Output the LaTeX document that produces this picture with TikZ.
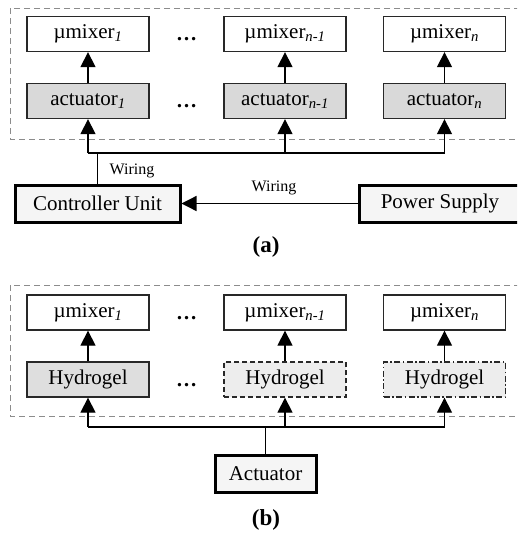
\documentclass[tikz,border=0pt]{standalone}
\usepackage{fontspec}
\setmainfont{Liberation Serif}
\usetikzlibrary{arrows.meta, positioning}
\definecolor{actgray}{RGB}{217, 217, 217}
\definecolor{gelgray}{RGB}{222, 222, 222}
\definecolor{gellight}{RGB}{237, 237, 237}
\definecolor{unitfill}{RGB}{245, 245, 245}
\definecolor{framegray}{RGB}{140, 140, 140}
\definecolor{linegray}{RGB}{40, 40, 40}

\begin{document}
\begin{tikzpicture}[
    x=1pt, y=-1pt,
    box/.style={rectangle, draw=linegray, line width=1.3pt, minimum width=122pt, minimum height=35pt, inner sep=0pt, font=\fontsize{21}{24}\selectfont},
    mixbox/.style={box, fill=white},
    actbox/.style={box, fill=actgray},
    gelbox/.style={box, fill=gellight},
    unitbox/.style={box, draw=black, line width=3pt, fill=unitfill, minimum height=37pt},
    frame/.style={draw=framegray, line width=1pt, dash pattern=on 6pt off 4pt},
    arr/.style={line width=1.3pt, -{Triangle[length=15pt, width=15pt]}},
    wire/.style={line width=1.3pt},
    lbl/.style={font=\fontsize{16}{18}\selectfont},
    dotsnode/.style={font=\fontsize{21}{24}\selectfont\bfseries},
    figlabel/.style={font=\fontsize{23}{26}\selectfont\bfseries},
]
    \useasboundingbox (0,0) rectangle (517,533);
    \clip (0,0) rectangle (517,533);

    % (a) frame
    \draw[frame] (10,8) rectangle (524,139);

    % (a) mixers
    \node[mixbox] (mixa1) at (88,34) {µmixer\textsubscript{\itshape 1}};
    \node[mixbox] (mixa2) at (285,34) {µmixer\textsubscript{\itshape n-1}};
    \node[mixbox] (mixa3) at (444.5,34) {µmixer\textsubscript{\itshape n}};

    % (a) actuators
    \node[actbox] (acta1) at (88,101) {actuator\textsubscript{\itshape 1}};
    \node[actbox] (acta2) at (285,101) {actuator\textsubscript{\itshape n-1}};
    \node[actbox] (acta3) at (444.5,101) {actuator\textsubscript{\itshape n}};

    \node[dotsnode] (dotsa1) at (186.5,39) {…};
    \node[dotsnode] (dotsa2) at (186.5,106) {…};

    \foreach \i in {1,2,3} {
        \draw[arr] (acta\i) -- (mixa\i);
    }

    % (a) units
    \node[unitbox, minimum width=165pt] (ctrl) at (97.5,203.5) {Controller Unit};
    \node[unitbox, minimum width=162pt] (power) at (440,203.5) {Power Supply};

    % (a) wiring
    \coordinate (busa) at (0,153);
    \draw[wire] (acta1.south |- busa) -- (acta3.south |- busa);
    \foreach \i in {1,2,3} {
        \draw[arr] (acta\i.south |- busa) -- (acta\i.south);
    }
    \draw[wire] (ctrl.north) -- (ctrl.north |- busa);
    \draw[arr] (power.west) -- (ctrl.east);
    \node[lbl] (wire1) at (132,171) {Wiring};
    \node[lbl] (wire2) at (274,188) {Wiring};

    \node[figlabel] (caba) at (266,247) {(a)};

    % (b) frame
    \draw[frame] (10,285) rectangle (524,416);

    % (b) mixers
    \node[mixbox] (mixb1) at (88,312.5) {µmixer\textsubscript{\itshape 1}};
    \node[mixbox] (mixb2) at (285,312.5) {µmixer\textsubscript{\itshape n-1}};
    \node[mixbox] (mixb3) at (444.5,312.5) {µmixer\textsubscript{\itshape n}};

    % (b) hydrogels
    \node[box, fill=gelgray] (gel1) at (88,379.5) {Hydrogel};
    \node[gelbox, dash pattern=on 5pt off 3pt] (gel2) at (285,379.5) {Hydrogel};
    \node[gelbox, dash pattern=on 6pt off 2.5pt on 1.5pt off 2.5pt] (gel3) at (444.5,379.5) {Hydrogel};

    \node[dotsnode] (dotsb1) at (186.5,318) {…};
    \node[dotsnode] (dotsb2) at (186.5,385) {…};

    \foreach \i in {1,2,3} {
        \draw[arr] (gel\i) -- (mixb\i);
    }

    % (b) actuator
    \node[unitbox, minimum width=101pt] (act) at (265.5,473.5) {Actuator};
    \coordinate (busb) at (0,427);
    \draw[wire] (gel1.south |- busb) -- (gel3.south |- busb);
    \foreach \i in {1,2,3} {
        \draw[arr] (gel\i.south |- busb) -- (gel\i.south);
    }
    \draw[wire] (act.north) -- (act.north |- busb);

    \node[figlabel] (cabb) at (266,520) {(b)};

\end{tikzpicture}
\end{document}
